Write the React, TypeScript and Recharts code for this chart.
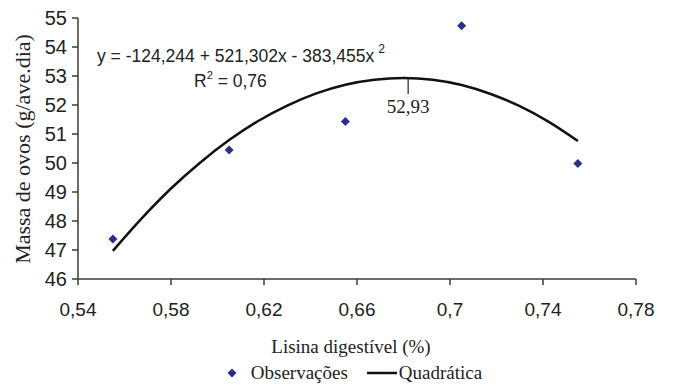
import React from "react";
import {
  ComposedChart,
  Line,
  Scatter,
  XAxis,
  YAxis,
  Legend,
  ReferenceLine,
  Customized,
} from "recharts";

// observed points
const obsX = [0.555, 0.605, 0.655, 0.705, 0.755];
const obsY = [47.38, 50.45, 51.43, 54.73, 49.98];

// fitted quadratic
const fitX = [0.555, 0.5675, 0.58, 0.5925, 0.605, 0.6175, 0.63, 0.6425, 0.655, 0.6675, 0.68, 0.6925, 0.705, 0.7175, 0.73, 0.7425, 0.755];
const fitY = [46.97, 48.1, 49.12, 50.01, 50.79, 51.45, 51.98, 52.4, 52.7, 52.87, 52.93, 52.87, 52.69, 52.38, 51.96, 51.42, 50.76];

const xTicks = [0.54, 0.58, 0.62, 0.66, 0.7, 0.74, 0.78];
const yTicks = [46, 47, 48, 49, 50, 51, 52, 53, 54, 55];

const peakX = 0.682;
const peakY = 52.93;
const peakLabel = "52,93";
const peakTickEnd = 52.38;

const obsData = obsX.map((x, i) => ({ x, y: obsY[i] }));
const fitData = fitX.map((x, i) => ({ x, y: fitY[i] }));

const SANS = "'Liberation Sans', Arial, sans-serif";
const SERIF = "'Liberation Serif', 'Times New Roman', serif";
const AXIS = "#3a3a3a";
const BLUE = "#2b2f8c";

const Diamond = (props: any) => {
  const { cx, cy } = props;
  const r = 4.5;
  return (
    <polygon
      points={`${cx},${cy - r} ${cx + r},${cy} ${cx},${cy + r} ${cx - r},${cy}`}
      fill={BLUE}
    />
  );
};

// equation, R² and the y title
const Annotations = () => (
  <g fill="#222">
    <g fontFamily={SANS} fontSize={17.5}>
      <text x={97} y={62}>
        y = -124,244 + 521,302x - 383,455x
        <tspan dx={4} dy={-9} fontSize={12}>2</tspan>
      </text>
      <text x={194} y={87}>
        R<tspan dy={-8} fontSize={11}>2</tspan>
        <tspan dy={8}> = 0,76</tspan>
      </text>
    </g>
    <text
      x={22}
      y={149}
      transform="rotate(-90 22 149)"
      textAnchor="middle"
      dominantBaseline="central"
      fontFamily={SERIF}
      fontSize={22}
    >
      Massa de ovos (g/ave.dia)
    </text>
  </g>
);

const LegendBox = () => (
  <div
    style={{
      display: "flex",
      justifyContent: "center",
      alignItems: "center",
      height: 22,
      marginTop: -7,
      fontFamily: SERIF,
      fontSize: 19,
      color: "#222",
      paddingLeft: 72,
    }}
  >
    <svg width={12} height={12} style={{ marginRight: 13 }}>
      <polygon points="6,1.5 10.5,6 6,10.5 1.5,6" fill={BLUE} />
    </svg>
    <span>Observações</span>
    <svg width={30} height={12} style={{ marginLeft: 19, marginRight: 2 }}>
      <line x1={0} y1={6} x2={30} y2={6} stroke="#111" strokeWidth={2.5} />
    </svg>
    <span>Quadrática</span>
  </div>
);

export default function App() {
  return (
    <div style={{ position: "absolute", left: 0, top: 0, background: "#fff" }}>
      <ComposedChart
        width={673}
        height={391}
        margin={{ top: 18, right: 37, bottom: 0, left: 0 }}
      >
        <XAxis
          type="number"
          dataKey="x"
          domain={[0.54, 0.78]}
          ticks={xTicks}
          tickFormatter={(v: number) => String(v).replace(".", ",")}
          height={90}
          tickSize={6}
          tickMargin={18}
          stroke={AXIS}
          strokeWidth={1.5}
          tick={{ fontFamily: SANS, fontSize: 19, fill: "#222" }}
          label={{
            value: "Lisina digestível (%)",
            position: "insideBottom",
            offset: 16,
            dx: -6,
            style: { fontFamily: SERIF, fontSize: 19, fill: "#222" },
          }}
        />
        <YAxis
          type="number"
          dataKey="y"
          domain={[46, 55]}
          ticks={yTicks}
          width={78}
          tickSize={6}
          tickMargin={5}
          stroke={AXIS}
          strokeWidth={1.5}
          tick={{ fontFamily: SANS, fontSize: 20, fill: "#222" }}
        />
        <Legend verticalAlign="bottom" height={22} content={<LegendBox />} />
        <Line
          data={fitData}
          dataKey="y"
          type="monotone"
          stroke="#111"
          strokeWidth={2.5}
          dot={false}
          activeDot={false}
          isAnimationActive={false}
          legendType="line"
          name="Quadrática"
        />
        <Scatter
          data={obsData}
          dataKey="y"
          shape={<Diamond />}
          isAnimationActive={false}
          name="Observações"
        />
        <ReferenceLine
          segment={[
            { x: peakX, y: peakY },
            { x: peakX, y: peakTickEnd },
          ]}
          stroke="#222"
          strokeWidth={1.2}
          label={{
            value: peakLabel,
            position: "bottom",
            offset: 6,
            style: { fontFamily: SERIF, fontSize: 19, fill: "#222" },
          }}
        />
        <Customized component={Annotations} />
      </ComposedChart>
    </div>
  );
}
